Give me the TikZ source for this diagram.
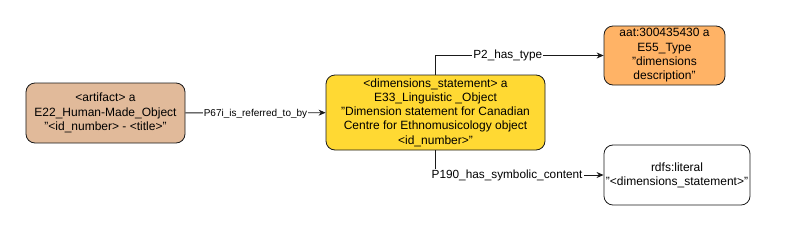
\documentclass[tikz,border=0pt]{standalone}
\usepackage{fontspec}
\setmainfont{Liberation Sans}
\usetikzlibrary{arrows.meta}
\definecolor{artbrown}{HTML}{E1BA9A}
\definecolor{dimyellow}{HTML}{FFD933}
\definecolor{typeorange}{HTML}{FFB366}
\definecolor{linedark}{HTML}{1A1A1A}

\begin{document}
\begin{tikzpicture}[x=1bp, y=-1bp,
    box/.style={draw=linedark, line width=0.8bp, rounded corners=9bp, align=center,
      inner sep=2bp, font=\fontsize{12bp}{14.3bp}\selectfont},
    rel/.style={draw=linedark, line width=0.8bp, -{Stealth[length=7bp, width=6bp]}},
    rellabel/.style={fill=white, inner sep=1bp, font=\fontsize{11.8bp}{13bp}\selectfont}]
  \useasboundingbox (0,0) rectangle (785,231);
  \node[box, fill=artbrown, minimum width=159bp, minimum height=60bp] (artifact) at (105.5,113)
    {<artifact> a\\E22\_Human-Made\_Object\\"<id\_number> - <title>"};
  \node[box, fill=dimyellow, minimum width=219bp, minimum height=75bp] (dimstmt) at (435.5,112.5)
    {<dimensions\_statement> a\\E33\_Linguistic \_Object\\"Dimension statement for Canadian\\Centre for Ethnomusicology object\\<id\_number>"};
  \node[box, fill=typeorange, minimum width=121bp, minimum height=59bp] (aattype) at (664.5,55.5)
    {aat:300435430 a\\E55\_Type\\"dimensions\\description"};
  \node[box, fill=white, minimum width=142bp, minimum height=60bp] (literal) at (677,175)
    {rdfs:literal\\"<dimensions\_statement>"};
  % relations
  \draw[rel] (artifact) -- node[rellabel, font=\fontsize{10bp}{12bp}\selectfont, yshift=-1bp] {P67i\_is\_referred\_to\_by} (dimstmt);
  \draw[rel] (dimstmt.north) |- node[rellabel, pos=0.715] {P2\_has\_type} (aattype.west);
  \draw[rel] (dimstmt.south) |- node[rellabel, pos=0.713] {P190\_has\_symbolic\_content} (literal.west);
\end{tikzpicture}
\end{document}
